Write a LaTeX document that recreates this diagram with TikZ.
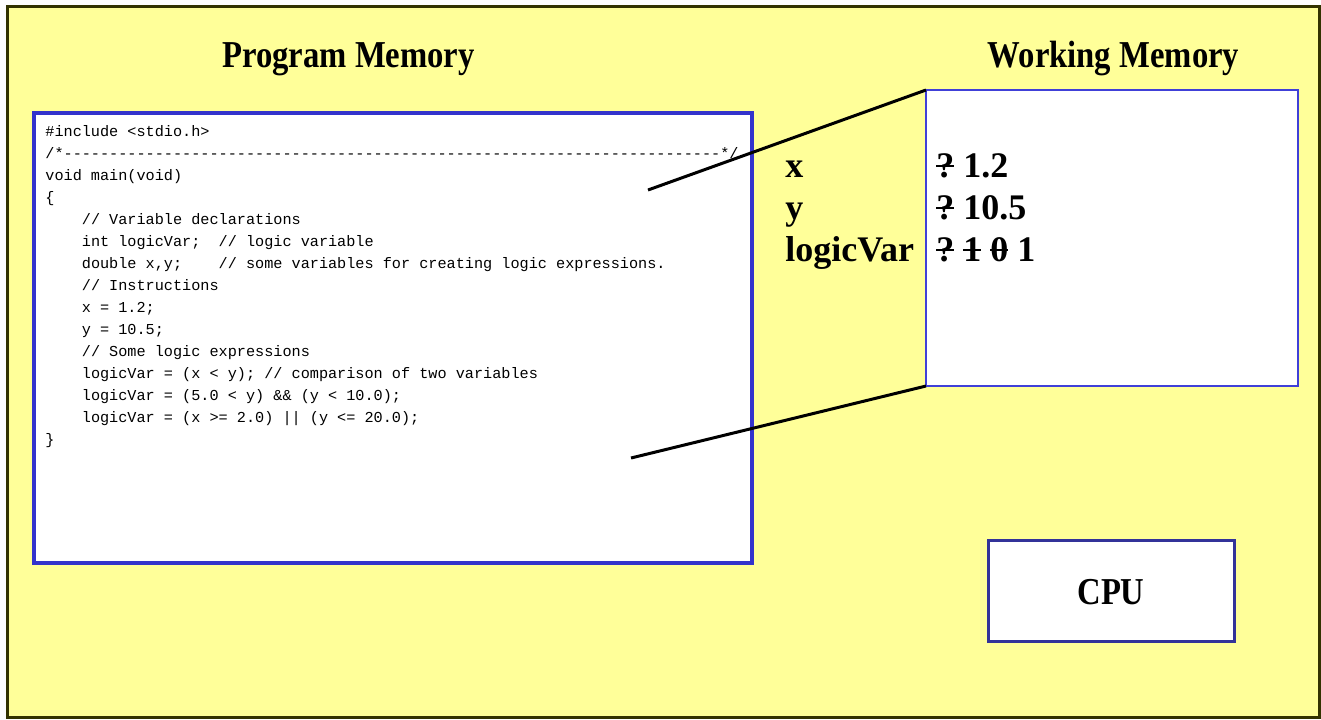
\documentclass[tikz,border=0pt]{standalone}
\usepackage{fontspec}
\setmainfont{Liberation Serif}[BoldFont={Liberation Serif Bold}]
\setmonofont{Liberation Mono}
\newfontfamily\titlefont{Liberation Serif Bold}[FakeStretch=0.86]
\usetikzlibrary{calc}

\definecolor{slideyellow}{RGB}{255,255,153}
\definecolor{slideframe}{RGB}{51,51,0}
\definecolor{progblue}{RGB}{51,51,204}
\definecolor{workblue}{RGB}{64,64,216}
\definecolor{cpublue}{RGB}{51,51,153}

% strike a character through the middle
\newcommand\struck[1]{\leavevmode\setbox0=\hbox{#1}\rlap{\rule[0.42\ht0]{\wd0}{1.1pt}}\box0\relax}

\begin{document}
\begin{tikzpicture}[
    x=0.5pt, y=-0.5pt,
    % Define styles
    slide/.style={
        rectangle,
        draw=slideframe,
        line width=1.5pt,
        fill=slideyellow,
        outer sep=0pt
    },
    membox/.style={
        rectangle,
        fill=white,
        outer sep=0pt
    },
    title/.style={font=\titlefont\fontsize{19pt}{22pt}\selectfont, anchor=base},
    codeline/.style={font=\ttfamily\fontsize{7.6pt}{11pt}\selectfont, anchor=base west, inner sep=0pt},
    varname/.style={font=\bfseries\fontsize{18pt}{21pt}\selectfont, anchor=base west, inner sep=0pt},
    zoomline/.style={draw=black, line width=1.5pt}
]
\useasboundingbox (0,0) rectangle (1321,719);

% Background
\node[slide, minimum width=656pt, minimum height=355.5pt] (slide) at (663,361.5) {};

% Titles
\node[title] (progtitle) at (348.5,67) {Program Memory};
\node[title] (worktitle) at (1113.5,67) {Working Memory};

% Program memory
\node[membox, draw=progblue, line width=1.75pt, minimum width=359pt, minimum height=225pt] (progmem) at (393,338) {};

\foreach \txt [count=\i from 0] in {
    {\#include <stdio.h>},
    {/*------------------------------------------------------------------------*/},
    {void main(void)},
    {\{},
    {~~~~// Variable declarations},
    {~~~~int logicVar;~~// logic variable},
    {~~~~double x,y;~~~~// some variables for creating logic expressions.},
    {~~~~// Instructions},
    {~~~~x = 1.2;},
    {~~~~y = 10.5;},
    {~~~~// Some logic expressions},
    {~~~~logicVar = (x < y); // comparison of two variables},
    {~~~~logicVar = (5.0 < y) \&\& (y < 10.0);},
    {~~~~logicVar = (x >= 2.0) || (y <= 20.0);},
    {\}}}
    \node[codeline] (code-\i) at (45,136+22*\i) {\txt};

% Working memory
\node[membox, draw=workblue, line width=1.1pt, minimum width=186pt, minimum height=148pt] (workmem) at (1112,238) {};

% Zoom lines from program to working memory
\coordinate (codetop) at (648,190);
\coordinate (codebot) at (631,458);
\draw[zoomline] (codetop) -- (workmem.north west);
\draw[zoomline] (codebot) -- (workmem.south west);

% Variables
\node[varname] (xname) at (785,177) {x};
\node[varname] (yname) at (785,219) {y};
\node[varname] (lvname) at (785,261) {logicVar};
\node[varname] (xval) at (936,177) {\struck{?} 1.2};
\node[varname] (yval) at (936,219) {\struck{?} 10.5};
\node[varname] (lvval) at (936,261) {\struck{?} \struck{1} \struck{0} 1};

% CPU
\node[membox, draw=cpublue, line width=1.5pt, minimum width=123pt, minimum height=50.5pt] (cpu) at (1111,590.5) {};
\node[title] (cputext) at (1111,604) {CPU};

\end{tikzpicture}
\end{document}
